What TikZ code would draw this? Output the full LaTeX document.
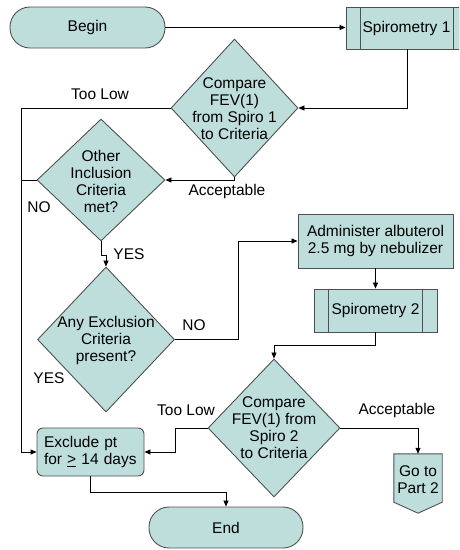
\documentclass[tikz,border=0pt]{standalone}
\usepackage{fontspec}
\setmainfont{Liberation Sans}
\usetikzlibrary{shapes.geometric,arrows.meta}
\definecolor{boxfill}{RGB}{190,222,220}
\definecolor{boxline}{RGB}{80,80,80}
\tikzset{
  base/.style={draw=boxline,fill=boxfill,line width=0.9pt,inner sep=0pt,
    font=\fontsize{15.5}{17}\selectfont,align=center},
  term/.style={base,rectangle,rounded corners=20pt,minimum width=155pt,minimum height=41pt},
  procbox/.style={base,rectangle,minimum width=155pt,minimum height=54pt},
  subproc/.style={base,rectangle},
  dtext/.style={font=\fontsize{15.5}{17}\selectfont,align=center,inner sep=0pt},
  lbl/.style={font=\fontsize{15.5}{17}\selectfont,inner sep=0pt},
  arr/.style={-{Triangle[length=6pt,width=5pt]},line width=0.8pt},
  ln/.style={line width=0.8pt}
}
\begin{document}
\begin{tikzpicture}[x=1pt,y=-1pt]
\clip (0,0) rectangle (459,550);

% start and end terminators
\node[term] (begin) at (87.5,27.5) {Begin};
\node[term,minimum width=154pt] (endn) at (226,527.5) {End};

% spirometry sub-processes
\node[subproc,minimum width=113pt,minimum height=42pt] (sp1) at (402.5,28) {};
\node[dtext] at (406.5,28) {Spirometry 1};
\draw[boxline,line width=0.9pt] ([xshift=15pt]sp1.north west) -- ([xshift=15pt]sp1.south west)
  ([xshift=-6pt]sp1.north east) -- ([xshift=-6pt]sp1.south east);

\node[subproc,minimum width=123pt,minimum height=43pt] (sp2) at (375.5,310.5) {Spirometry 2};
\draw[boxline,line width=0.9pt] ([xshift=15pt]sp2.north west) -- ([xshift=15pt]sp2.south west)
  ([xshift=-15pt]sp2.north east) -- ([xshift=-15pt]sp2.south east);

% albuterol step
\node[procbox] (adm) at (375.5,241) {Administer albuterol\\2.5 mg by nebulizer};

% decisions
\node[base,diamond,minimum width=127pt,minimum height=138pt] (d1) at (234.5,108) {};
\node[dtext] at (234.5,109) {Compare\\FEV(1)\\from Spiro 1\\to Criteria};

\node[base,diamond,minimum width=128pt,minimum height=122pt] (d2) at (101,180) {};
\node[dtext] at (101,181) {Other\\Inclusion\\Criteria\\met?};

\node[base,diamond,minimum width=137pt,minimum height=145pt] (d3) at (106,339.5) {};
\node[dtext] at (106,340) {Any Exclusion\\Criteria\\present?};

\node[base,diamond,minimum width=132pt,minimum height=138pt] (d4) at (274,428) {};
\node[dtext] at (274,428) {Compare\\FEV(1) from\\Spiro 2\\to Criteria};

% exclusion box
\node[base,rectangle,rounded corners=6pt,minimum width=107pt,minimum height=48pt,
  align=left,text width=93pt] (exc) at (90.5,452) {Exclude pt\\for \underline{>} 14 days};

% off-page connector
\node[minimum width=48pt,minimum height=48pt,inner sep=0pt] (goto) at (418,478) {};
\filldraw[draw=boxline,fill=boxfill,line width=0.9pt] (goto.north west) -- (goto.north east)
  -- (goto.south east) -- ([yshift=-11pt]goto.south) -- (goto.south west) -- cycle;
\node[dtext] at (418,480) {Go to\\Part 2};

% left collector line
\coordinate (lx) at (21,108);

% connectors
\draw[arr] (begin.east) -- (begin.east -| sp1.west);
\draw[arr] ([xshift=4.5pt]sp1.south) |- (d1.east);
\draw[arr] (d1.west) -- (d1.west -| lx) |- (exc.west);
\draw[arr] (d1.south) |- (d2.east);
\draw[ln] (d2.west) -- (d2.west -| lx);
\draw[arr] (d2.south) -- ++(0,14) -| (d3.north);
\draw[arr] (d3.east) -- ++(63,0) |- (adm.west);
\draw[arr] (adm.south) -- (sp2.north);
\draw[arr] (sp2.south) -- ++(0,13) -| (d4.north);
\draw[arr] (d4.west) -- ++(-32,0) |- (exc.east);
\draw[arr] (d4.east) -| (goto.north);
\draw[arr] (exc.south) -- ++(0,16) -| (endn.north);

% branch labels
\node[lbl] at (100,94) {Too Low};
\node[lbl] at (227,191) {Acceptable};
\node[lbl] at (39,207) {NO};
\node[lbl] at (129,254) {YES};
\node[lbl] at (194,325) {NO};
\node[lbl] at (49,378) {YES};
\node[lbl] at (186,410) {Too Low};
\node[lbl] at (397,410) {Acceptable};
\end{tikzpicture}
\end{document}
